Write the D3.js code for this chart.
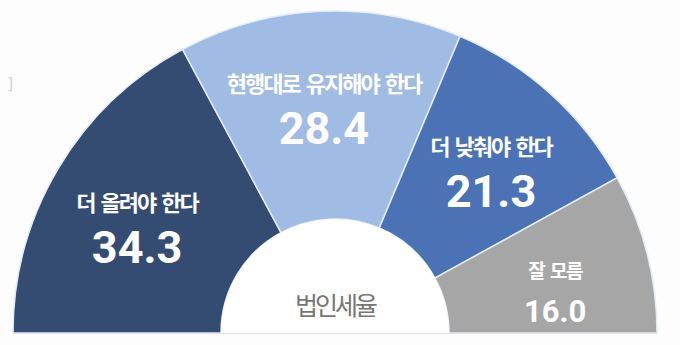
<!DOCTYPE html>
<html>
<head>
<meta charset="utf-8">
<script src="https://cdn.jsdelivr.net/npm/d3@7"></script>
<style>
    body { margin: 0; background: #fdfdfd; }
    svg { display: block; }
</style>
</head>
<body>
<svg width="680" height="345"></svg>
<script>
// data
const categories = ['더 올려야 한다', '현행대로 유지해야 한다', '더 낮춰야 한다', '잘 모름']
const values = [34.3, 28.4, 21.3, 16.0]
const centerLabel = '법인세율'

const colors = ['#344b72', '#a0bce4', '#4a72b4', '#a6a6a6']

const cx = 335
const cy = 333
const outerR = 322
const innerR = 114
const labelR = 224

const svg = d3.select('svg')

// faint bracket artifact on the left
svg.append('text')
    .attr('x', 7)
    .attr('y', 89)
    .style('font-family', 'DejaVu Sans')
    .style('font-size', '16px')
    .style('fill', '#d4d4d4')
    .text(']')

const g = svg.append('g').attr('transform', `translate(${cx}, ${cy})`)

const pie = d3.pie()
    .sort(null)
    .startAngle(-Math.PI / 2)
    .endAngle(Math.PI / 2)

const arcs = pie(values)

const arc = d3.arc().innerRadius(innerR).outerRadius(outerR)

g.selectAll('path.slice')
    .data(arcs)
    .enter()
    .append('path')
    .attr('class', 'slice')
    .attr('d', arc)
    .style('fill', (d, i) => colors[i])
    .style('stroke', '#e4ecf7')
    .style('stroke-width', 1.5)

// inner white half disc
g.append('path')
    .attr('d', d3.arc().innerRadius(0).outerRadius(innerR).startAngle(-Math.PI / 2).endAngle(Math.PI / 2))
    .style('fill', '#ffffff')

// baseline
svg.append('line')
    .attr('x1', cx - outerR)
    .attr('x2', cx + outerR)
    .attr('y1', cy + 0.5)
    .attr('y2', cy + 0.5)
    .style('stroke', '#e2e2e2')
    .style('stroke-width', 1)

g.append('text')
    .attr('x', 0)
    .attr('y', -18)
    .style('text-anchor', 'middle')
    .style('font-family', '"Noto Sans CJK KR"')
    .style('font-size', '25px')
    .style('letter-spacing', '-3px')
    .style('fill', '#767676')
    .text(centerLabel)

// labels, angle spread a bit wider than the slice middle
const labels = g.selectAll('g.label')
    .data(arcs)
    .enter()
    .append('g')
    .attr('class', 'label')
    .attr('transform', (d) => {
        const a = ((d.startAngle + d.endAngle) / 2) * 1.05
        return `translate(${labelR * Math.sin(a)}, ${-labelR * Math.cos(a)})`
    })

const small = (d) => d.value < 20

labels.append('text')
    .attr('y', (d) => (small(d) ? -14 : -17))
    .style('text-anchor', 'middle')
    .style('font-family', '"Noto Sans CJK KR"')
    .style('font-weight', 'bold')
    .style('font-size', (d) => (small(d) ? '19px' : '22px'))
    .style('letter-spacing', (d) => (small(d) ? '-1.5px' : '-2px'))
    .style('word-spacing', '3px')
    .style('fill', '#ffffff')
    .text((d, i) => categories[i])

labels.append('text')
    .attr('y', (d) => (small(d) ? 30 : 35))
    .style('text-anchor', 'middle')
    .style('font-family', 'Roboto')
    .style('font-weight', 'bold')
    .style('font-size', (d) => (small(d) ? '31px' : '45px'))
    .style('fill', '#ffffff')
    .text((d) => d3.format('.1f')(d.value))
</script>
</body>
</html>
